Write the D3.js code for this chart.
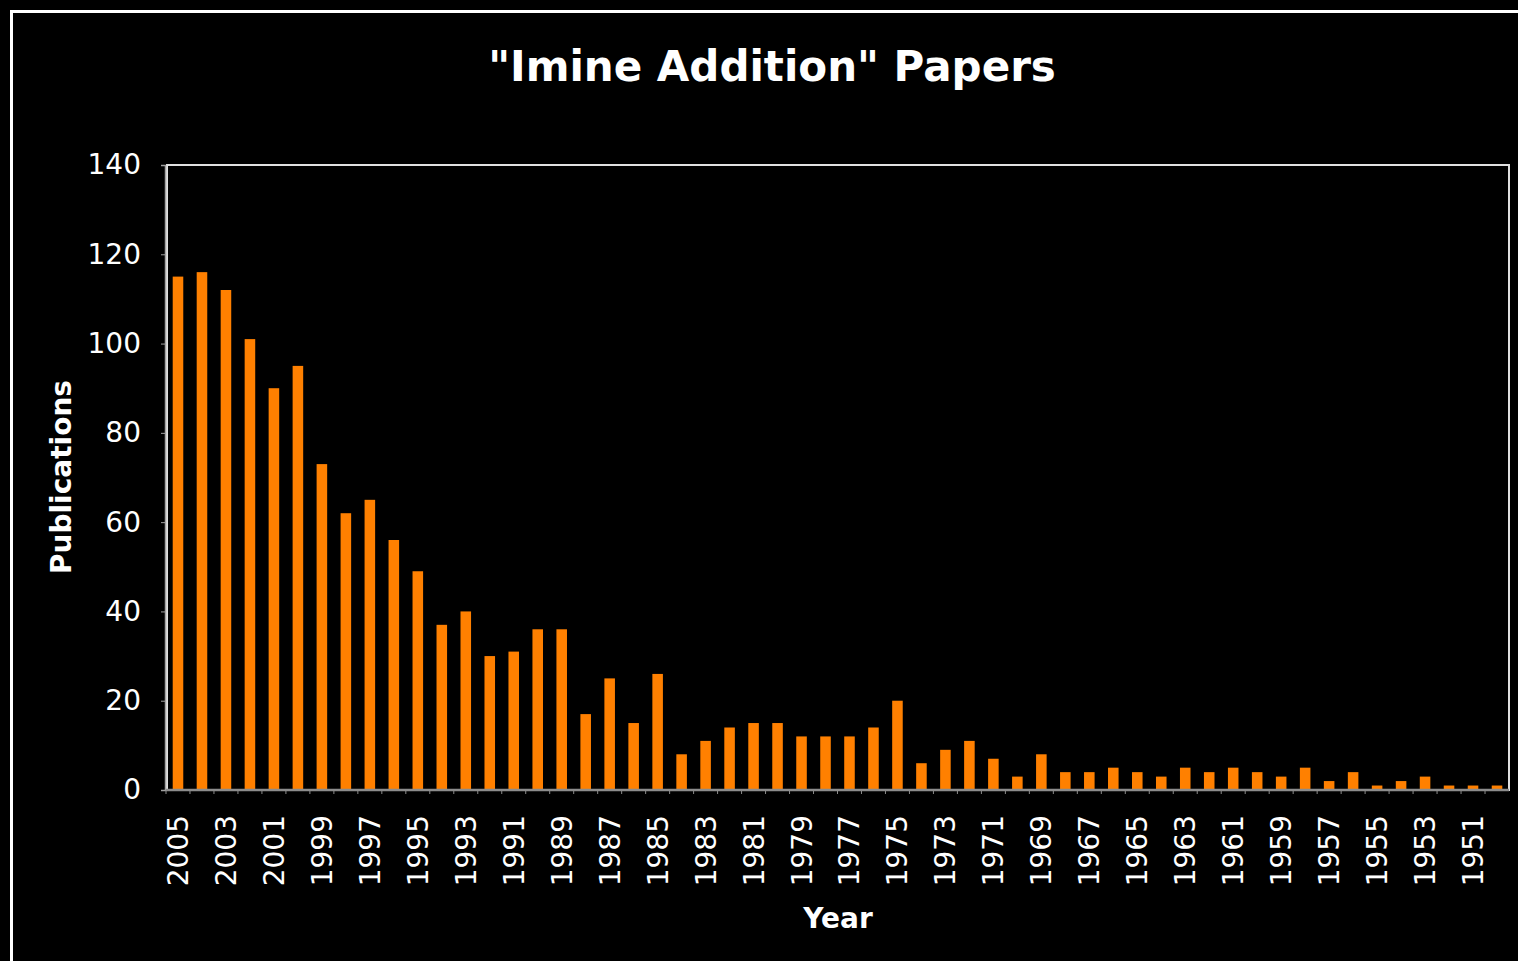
<!DOCTYPE html>
<html>
<head>
<meta charset="utf-8">
<script src="https://cdn.jsdelivr.net/npm/d3@7"></script>
<style>
  html, body { margin: 0; padding: 0; background: #000; overflow: hidden; }
  svg { display: block; }
  text { font-family: "DejaVu Sans", Verdana, sans-serif; fill: #fff; }
</style>
</head>
<body>
<svg id="chart" width="1518" height="961"></svg>
<script>
// Years shown on the category axis, newest first
const years = [
  2005, 2004, 2003, 2002, 2001, 2000, 1999, 1998, 1997, 1996,
  1995, 1994, 1993, 1992, 1991, 1990, 1989, 1988, 1987, 1986,
  1985, 1984, 1983, 1982, 1981, 1980, 1979, 1978, 1977, 1976,
  1975, 1974, 1973, 1972, 1971, 1970, 1969, 1968, 1967, 1966,
  1965, 1964, 1963, 1962, 1961, 1960, 1959, 1958, 1957, 1956,
  1955, 1954, 1953, 1952, 1951, 1950
];

// Publication counts per year
const publications = [
  115, 116, 112, 101, 90, 95, 73, 62, 65, 56,
  49, 37, 40, 30, 31, 36, 36, 17, 25, 15,
  26, 8, 11, 14, 15, 15, 12, 12, 12, 14,
  20, 6, 9, 11, 7, 3, 8, 4, 4, 5,
  4, 3, 5, 4, 5, 4, 3, 5, 2, 4,
  1, 2, 3, 1, 1, 1
];

// Value axis ticks
const yTicks = [0, 20, 40, 60, 80, 100, 120, 140];

const titleText = '"Imine Addition" Papers';
const xTitle = "Year";
const yTitle = "Publications";

const svg = d3.select("#chart");

// Outer frame
svg.append("rect")
  .attr("x", 11.5).attr("y", 11.5)
  .attr("width", 1600).attr("height", 1100)
  .attr("fill", "#000")
  .attr("stroke", "#fff").attr("stroke-width", 3);

const plot = { left: 166, right: 1509, top: 165, bottom: 790 };

const x = d3.scaleBand()
  .domain(years)
  .range([plot.left, plot.right])
  .paddingInner(0.56)
  .paddingOuter(0.28);

const y = d3.scaleLinear()
  .domain([0, 140])
  .range([plot.bottom, plot.top]);

// Plot area border
svg.append("rect")
  .attr("x", plot.left + 1).attr("y", plot.top)
  .attr("width", plot.right - plot.left - 1)
  .attr("height", plot.bottom - plot.top)
  .attr("fill", "none")
  .attr("stroke", "#e0e0e0").attr("stroke-width", 2);

// Bars
svg.append("g")
  .selectAll("rect")
  .data(years)
  .join("rect")
  .attr("x", d => x(d))
  .attr("width", x.bandwidth())
  .attr("y", (d, i) => y(publications[i]))
  .attr("height", (d, i) => y(0) - y(publications[i]))
  .attr("fill", "#ff8000");

// Value axis
const yAxis = d3.axisLeft(y)
  .tickValues(yTicks)
  .tickSize(4)
  .tickPadding(20);
const gy = svg.append("g")
  .attr("transform", `translate(${plot.left - 1},0)`)
  .call(yAxis);
gy.select(".domain").attr("stroke", "#a0a0a0").attr("stroke-width", 1.5);
gy.selectAll(".tick line").attr("stroke", "#a0a0a0");
gy.selectAll(".tick text")
  .attr("fill", "#fff")
  .style("font-size", "28px")
  .style("font-family", '"DejaVu Sans", Verdana, sans-serif');

// Category axis: tick marks sit between the bars
const xAxisLine = svg.append("g");
xAxisLine.append("line")
  .attr("x1", plot.left).attr("x2", plot.right)
  .attr("y1", plot.bottom).attr("y2", plot.bottom)
  .attr("stroke", "#8c8c8c").attr("stroke-width", 2.5);
xAxisLine.selectAll(".sep")
  .data(years)
  .join("line")
  .attr("class", "sep")
  .attr("x1", d => x(d) - x.step() * x.paddingInner() / 2)
  .attr("x2", d => x(d) - x.step() * x.paddingInner() / 2)
  .attr("y1", plot.bottom).attr("y2", plot.bottom + 4)
  .attr("stroke", "#8c8c8c").attr("stroke-width", 1);

// Category labels, every other year, rotated
const labelYears = years.filter((d, i) => i % 2 === 0);
svg.append("g")
  .selectAll("text")
  .data(labelYears)
  .join("text")
  .attr("transform", d => `translate(${x(d) + x.bandwidth() / 2 + 10},${plot.bottom + 25}) rotate(-90)`)
  .attr("text-anchor", "end")
  .style("font-size", "28px")
  .text(d => d);

// Title
svg.append("text")
  .attr("x", 772).attr("y", 81)
  .attr("text-anchor", "middle")
  .style("font-size", "42px")
  .style("font-weight", "bold")
  .text(titleText);

// Axis titles
svg.append("text")
  .attr("x", 838).attr("y", 928)
  .attr("text-anchor", "middle")
  .style("font-size", "28px")
  .style("font-weight", "bold")
  .text(xTitle);

svg.append("text")
  .attr("transform", "translate(71,477) rotate(-90)")
  .attr("text-anchor", "middle")
  .style("font-size", "28px")
  .style("font-weight", "bold")
  .text(yTitle);
</script>
</body>
</html>
